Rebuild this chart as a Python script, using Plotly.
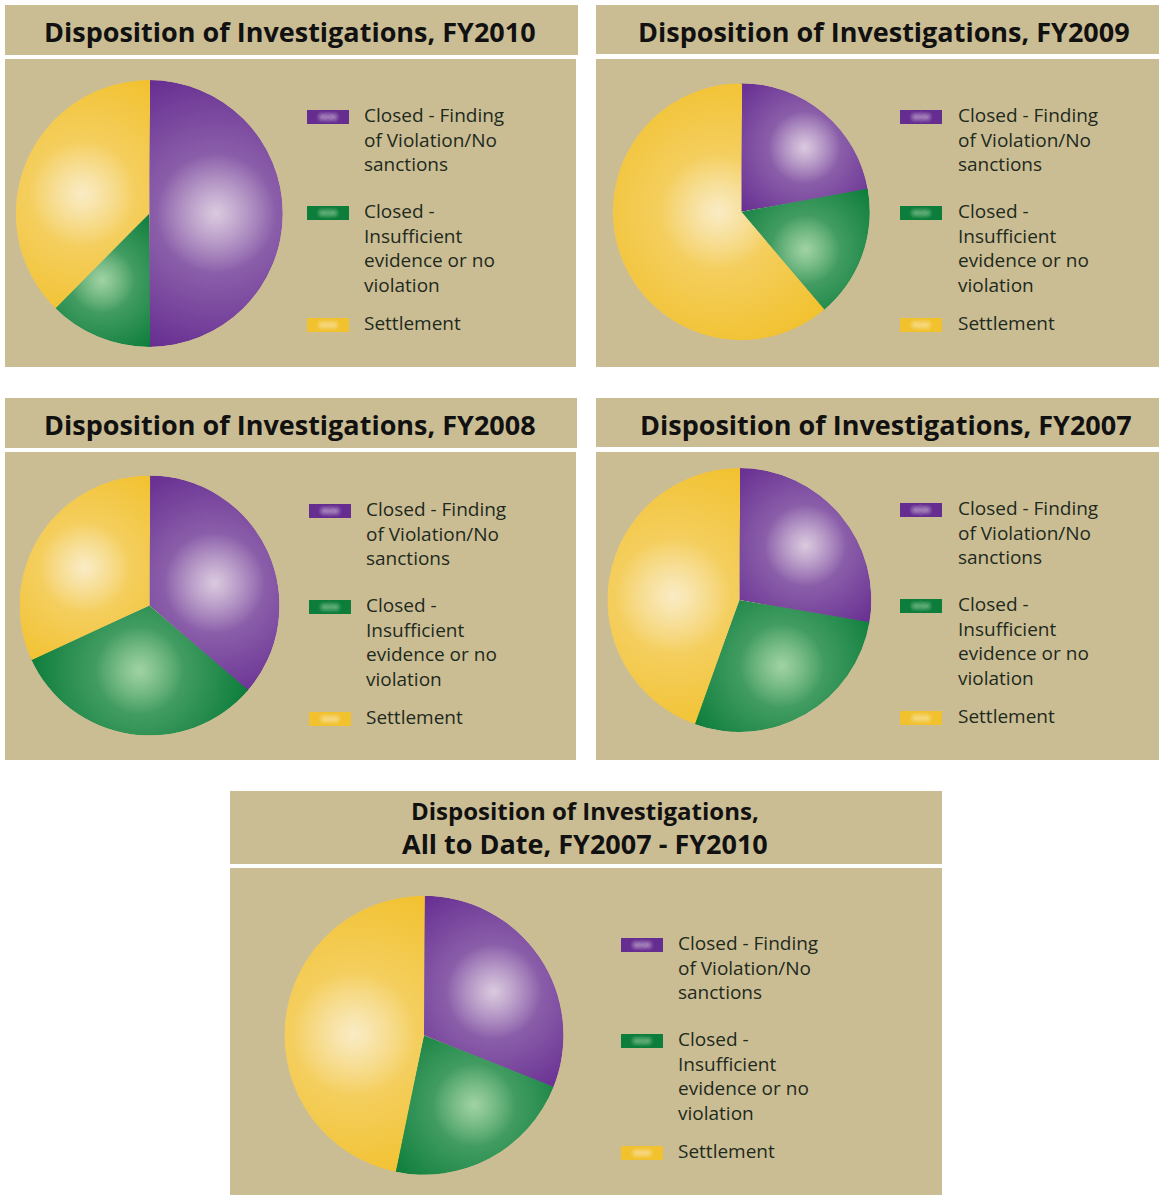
import math
import plotly.graph_objects as go

W, H = 1159, 1195

# ---------------- data ----------------
categories = ["Closed - Finding of Violation/No sanctions",
              "Closed - Insufficient evidence or no violation",
              "Settlement"]
legend_labels = ["Closed - Finding<br>of Violation/No<br>sanctions",
                 "Closed -<br>Insufficient<br>evidence or no<br>violation",
                 "Settlement"]
titles = ["Disposition of Investigations, FY2010",
          "Disposition of Investigations, FY2009",
          "Disposition of Investigations, FY2008",
          "Disposition of Investigations, FY2007",
          "Disposition of Investigations,",
          "All to Date, FY2007 - FY2010"]
values_fy2010 = [4, 1, 3]
values_fy2009 = [4, 3, 11]
values_fy2008 = [8, 7, 7]
values_fy2007 = [5, 5, 8]
values_all = [28, 20, 42]

# ---------------- style ----------------
slice_colors = ["#662D91", "#0C7D3B", "#F2C12E"]
glow_rgb = [(246, 239, 241), (206, 237, 196), (251, 245, 231)]
glow_alpha = [(0.6, 0.95), (0.66, 0.8), (0.62, 0.95)]
TAN = "#CBBD93"
TXT = "#1d2a1d"
FONT = "Open Sans, Noto Sans, sans-serif"

panels = [
    dict(values=values_fy2010, title=titles[0], tbox=(5, 5, 578, 55), cbox=(5, 59, 576, 367),
         txy=(290, 31), pie=(149.3, 213.5, 133.5), swx=307, txx=362, ly=(115, 211, 323)),
    dict(values=values_fy2009, title=titles[1], tbox=(596, 5, 1159, 54), cbox=(596, 59, 1159, 367),
         txy=(884, 31), pie=(741.3, 211.7, 128.5), swx=900, txx=956, ly=(115, 211, 323)),
    dict(values=values_fy2008, title=titles[2], tbox=(5, 398, 577, 448), cbox=(5, 452, 576, 760),
         txy=(290, 424), pie=(149.5, 605.5, 130), swx=309, txx=364, ly=(509, 605, 717)),
    dict(values=values_fy2007, title=titles[3], tbox=(596, 398, 1159, 447), cbox=(596, 452, 1159, 760),
         txy=(886, 424), pie=(739.4, 600, 132), swx=900, txx=956, ly=(508, 604, 716)),
    dict(values=values_all, title=None, tbox=(230, 791, 942, 864), cbox=(230, 868, 942, 1195),
         txy=(585, 0), pie=(424, 1035.3, 139.5), swx=621, txx=676, ly=(943, 1039, 1151)),
]

FS = 19
LINE = 1.3 * FS
EPS = 0.4

fig = go.Figure()
shapes = []
annotations = []


def unit_bbox(s0, s1):
    angs = [s0, s1] + [k * 90 for k in range(math.ceil(s0 / 90), math.floor(s1 / 90) + 1)]
    xs = [0.0] + [math.cos(math.radians(a)) for a in angs]
    ys = [0.0] + [math.sin(math.radians(a)) for a in angs]
    return min(xs), min(ys), max(xs), max(ys)


n = 0
glow_x, glow_y, glow_s, glow_c, glow_g = [], [], [], [], []
for p in panels:
    for (x0, y0, x1, y1) in (p["tbox"], p["cbox"]):
        shapes.append(dict(type="rect", xref="x", yref="y", x0=x0, y0=y0, x1=x1, y1=y1,
                           fillcolor=TAN, line=dict(width=0), layer="below"))
    if p["title"]:
        annotations.append(dict(x=p["txy"][0], y=p["txy"][1], xref="x", yref="y", text=p["title"],
                                showarrow=False, xanchor="center", yanchor="middle",
                                font=dict(family=FONT, size=27, color="#111111", weight="bold")))
    cx, cy, R = p["pie"]
    vals = p["values"]
    tot = float(sum(vals))
    cum = 0.0
    for j, v in enumerate(vals):
        t1 = 360.0 * cum / tot
        cum += v
        t2 = 360.0 * cum / tot
        n += 1
        pid = "polar" if n == 1 else f"polar{n}"
        s0, s1 = 90 - (t2 + EPS), 90 - (t1 - EPS)
        bx0, by0, bx1, by1 = unit_bbox(s0, s1)
        dom_x = [(cx + R * bx0) / W, (cx + R * bx1) / W]
        dom_y = [1 - (cy - R * by0) / H, 1 - (cy - R * by1) / H]
        fig.update_layout(**{pid: dict(
            domain=dict(x=dom_x, y=dom_y), sector=[s0, s1], bgcolor="rgba(0,0,0,0)",
            angularaxis=dict(visible=False, rotation=90, direction="clockwise"),
            radialaxis=dict(visible=False, range=[0, 1], autorange=False))})
        # the slice itself
        fig.add_trace(go.Barpolar(r=[1], theta=[(t1 + t2) / 2], width=[t2 - t1 + 2 * EPS],
                                  marker=dict(color=slice_colors[j], line=dict(width=0)),
                                  name=categories[j], subplot=pid, hoverinfo="name",
                                  showlegend=False))
        # radial highlight centred on the slice's bounding box
        ux0, uy0, ux1, uy1 = unit_bbox(90 - t2, 90 - t1)
        hx, hy = (ux0 + ux1) / 2, (uy0 + uy1) / 2
        hr = math.hypot(hx, hy)
        hth = math.degrees(math.atan2(hx, hy))
        far = hr
        for k in range(201):
            a = math.radians(90 - (t1 + (t2 - t1) * k / 200))
            far = max(far, math.hypot(math.cos(a) - hx, math.sin(a) - hy))
        d1, d2 = far * R, 0.4 * far * R
        rgb = glow_rgb[j]
        a1, a2 = glow_alpha[j]
        base = f"rgba({rgb[0]},{rgb[1]},{rgb[2]},"
        fig.add_trace(go.Scatterpolar(
            r=[hr, hr], theta=[hth, hth], mode="markers", subplot=pid, cliponaxis=True,
            hoverinfo="skip", showlegend=False,
            marker=dict(size=[2 * d1, 2 * d2], symbol="circle", line=dict(width=0),
                        color=[base + "0)"] * 2,
                        gradient=dict(type="radial", color=[base + f"{a1})", base + f"{a2})"]))))
        # legend swatch + text
        ly = p["ly"][j]
        sy = ly + 2
        sx0 = p["swx"]
        shapes.append(dict(type="rect", xref="x", yref="y", x0=sx0, x1=sx0 + 42, y0=sy - 7, y1=sy + 7,
                           fillcolor=slice_colors[j], line=dict(width=0), layer="below"))
        for dx, sz in ((-6, 12), (6, 12), (0, 13)):
            glow_x.append(sx0 + 21 + dx)
            glow_y.append(sy)
            glow_s.append(sz)
            glow_c.append(base + "0)")
            glow_g.append(base + "0.6)")
        nl = legend_labels[j].count("<br>") + 1
        annotations.append(dict(x=p["txx"], y=ly + (nl - 1) * LINE / 2, xref="x", yref="y",
                                text=legend_labels[j], showarrow=False, xanchor="left",
                                yanchor="middle", align="left",
                                font=dict(family=FONT, size=FS, color=TXT)))

# bottom title (two lines)
annotations.append(dict(x=585, y=810, xref="x", yref="y", text=titles[4], showarrow=False,
                        xanchor="center", yanchor="middle",
                        font=dict(family=FONT, size=24, color="#111111", weight="bold")))
annotations.append(dict(x=585, y=843, xref="x", yref="y", text=titles[5], showarrow=False,
                        xanchor="center", yanchor="middle",
                        font=dict(family=FONT, size=27, color="#111111", weight="bold")))

# swatch highlights on the pixel overlay axis
fig.add_trace(go.Scatter(x=glow_x, y=glow_y, mode="markers", hoverinfo="skip", showlegend=False,
                         marker=dict(size=glow_s, color=glow_c, line=dict(width=0),
                                     gradient=dict(type="radial", color=glow_g))))

fig.update_layout(
    width=W, height=H, margin=dict(l=0, r=0, t=0, b=0),
    paper_bgcolor="white", plot_bgcolor="rgba(0,0,0,0)", showlegend=False,
    xaxis=dict(range=[0, W], visible=False, fixedrange=True, domain=[0, 1]),
    yaxis=dict(range=[H, 0], visible=False, fixedrange=True, domain=[0, 1]),
    shapes=shapes, annotations=annotations,
)

fig.write_html("out.html", config={"displayModeBar": False},
               post_script="document.body.style.margin='0';")
